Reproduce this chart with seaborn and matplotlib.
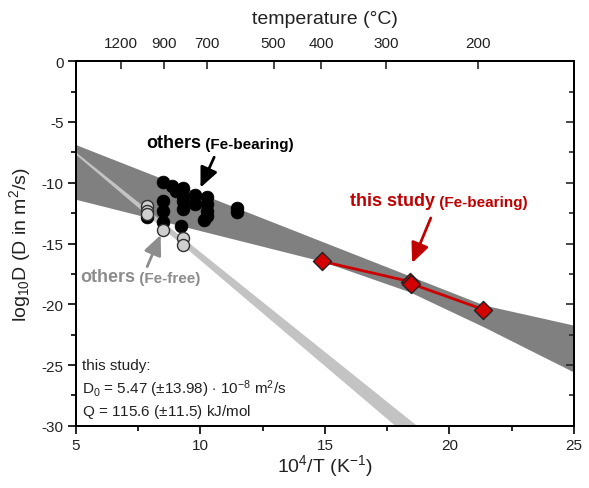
import numpy as np
import pandas as pd
import matplotlib
matplotlib.use("Agg")
import matplotlib.pyplot as plt
from matplotlib.ticker import MultipleLocator
import seaborn as sns

# ---------------- data ----------------
fe_bearing_x = [8.48, 8.84, 9.00, 9.31, 9.31, 9.31, 9.31, 9.78, 9.78,
                10.27, 10.27, 10.27, 10.27, 10.14, 8.48, 8.48, 8.48,
                9.20, 11.45, 11.45, 7.86]
fe_bearing_y = [-9.92, -10.25, -10.66, -10.46, -11.07, -11.48, -12.16, -11.0, -11.75,
                -11.2, -11.75, -12.3, -12.76, -13.04, -11.48, -12.3, -13.25,
                -13.6, -12.1, -12.4, -12.85]

fe_free_x = [7.86, 7.86, 7.86, 8.50, 9.31, 9.31]
fe_free_y = [-11.9, -12.3, -12.6, -13.86, -14.57, -15.1]

study_x = [14.87, 18.41, 18.45, 21.36]
study_y = [-16.46, -18.13, -18.30, -20.43]

# uncertainty envelope, Fe-bearing (dark band)
band_upper_x = [5.0, 21.4, 25.0]
band_upper_y = [-6.9, -20.1, -21.75]
band_lower_x = [5.0, 14.9, 18.4, 21.4, 25.0]
band_lower_y = [-11.4, -16.5, -19.0, -21.9, -25.6]

# envelope, Fe-free (light band)
fefree_upper_x = [5.0, 18.7]
fefree_upper_y = [-7.5, -30.0]
fefree_lower_x = [5.0, 17.83]
fefree_lower_y = [-7.7, -30.0]

temp_ticks_c = [1200, 900, 700, 500, 400, 300, 200]

# ---------------- style ----------------
sns.set_theme(style="ticks")
plt.rcParams["font.family"] = ["Liberation Sans", "DejaVu Sans"]
plt.rcParams["mathtext.fontset"] = "custom"
plt.rcParams["mathtext.rm"] = "Liberation Sans"
plt.rcParams["mathtext.it"] = "Liberation Sans:italic"
plt.rcParams["mathtext.bf"] = "Liberation Sans:bold"
plt.rcParams["axes.unicode_minus"] = False

RED_TXT = "#c00000"
RED_LINE = "#cc0000"
RED_FILL = "#d40000"
GRAY_TXT = "#8c8c8c"
DARK_BAND = "#808080"
LIGHT_BAND = "#c3c3c3"

fig = plt.figure(figsize=(5.89, 4.89), dpi=100)
ax = fig.add_axes([0.129, 0.127, 0.8455, 0.746])

# bands
ax.fill(band_upper_x + band_lower_x[::-1], band_upper_y + band_lower_y[::-1],
        color=DARK_BAND, lw=0, zorder=1)
ax.fill(fefree_upper_x + fefree_lower_x[::-1], fefree_upper_y + fefree_lower_y[::-1],
        color=LIGHT_BAND, lw=0, zorder=2)

# points
df_fb = pd.DataFrame({"x": fe_bearing_x, "y": fe_bearing_y})
df_ff = pd.DataFrame({"x": fe_free_x, "y": fe_free_y})
df_st = pd.DataFrame({"x": study_x, "y": study_y})

sns.scatterplot(data=df_fb, x="x", y="y", ax=ax, color="black", s=85,
                edgecolor="black", linewidth=0.5, zorder=4, legend=False)
sns.scatterplot(data=df_ff, x="x", y="y", ax=ax, color="#cfcfcf", s=75,
                edgecolor="#303030", linewidth=1.0, zorder=5, legend=False)
sns.lineplot(data=df_st, x="x", y="y", ax=ax, color=RED_LINE, lw=2,
             sort=True, estimator=None, zorder=6, legend=False)
sns.scatterplot(data=df_st, x="x", y="y", ax=ax, marker="D", color=RED_FILL, s=85,
                edgecolor="#222222", linewidth=1.0, zorder=7, legend=False)

# axes
ax.set_xlim(5, 25)
ax.set_ylim(-30, 0)
ax.xaxis.set_major_locator(MultipleLocator(5))
ax.xaxis.set_minor_locator(MultipleLocator(2.5))
ax.yaxis.set_major_locator(MultipleLocator(5))
ax.yaxis.set_minor_locator(MultipleLocator(2.5))
ax.tick_params(which="major", direction="out", length=6, width=1.2,
               labelsize=11, color="black", labelcolor="#222222", pad=3)
ax.tick_params(which="minor", direction="out", length=3.5, width=1.2, color="black")
for sp in ax.spines.values():
    sp.set_linewidth(1.3)
    sp.set_color("black")
    sp.set_visible(True)
ax.set_xlabel(r"10$^{4}$/T (K$^{-1}$)", fontsize=14, color="#222222", labelpad=0)
ax.set_ylabel(r"log$_{10}$D (D in m$^{2}$/s)", fontsize=14, color="#222222", labelpad=6)

# right ticks (inward)
axr = ax.twinx()
axr.set_ylim(-30, 0)
axr.yaxis.set_major_locator(MultipleLocator(5))
axr.yaxis.set_minor_locator(MultipleLocator(2.5))
axr.tick_params(which="major", direction="in", length=6, width=1.2, labelright=False)
axr.tick_params(which="minor", direction="in", length=3.5, width=1.2, labelright=False)

# top temperature axis
axt = ax.twiny()
axt.set_xlim(5, 25)
temp_pos = [1e4 / (t + 273.15) for t in temp_ticks_c]
axt.set_xticks(temp_pos)
axt.set_xticklabels([str(t) for t in temp_ticks_c])
axt.xaxis.set_minor_locator(matplotlib.ticker.NullLocator())
axt.tick_params(direction="in", length=6, width=1.2, labelsize=11,
                labelcolor="#222222", pad=8)
axt.set_xlabel("temperature (°C)", fontsize=14, color="#222222", labelpad=9)
for a in (axr, axt):
    for sp in a.spines.values():
        sp.set_linewidth(1.3)
        sp.set_color("black")

arrow_style = "-|>,head_length=1.0,head_width=0.45"

# annotations
t1 = ax.text(7.81, -6.68, "others", fontsize=13, fontweight="bold",
             color="black", ha="left", va="center", zorder=9)
ax.annotate(" (Fe-bearing)", xy=(1, 0), xycoords=t1, ha="left", va="bottom",
            fontsize=11, fontweight="bold", color="black")
ax.annotate("", xy=(10.0, -10.4), xytext=(10.55, -7.9),
            arrowprops=dict(arrowstyle=arrow_style, color="black", lw=2,
                            shrinkA=0, shrinkB=0), zorder=9)

t2 = ax.text(5.16, -17.7, "others", fontsize=13, fontweight="bold",
             color=GRAY_TXT, ha="left", va="center", zorder=9)
ax.annotate(" (Fe-free)", xy=(1, 0), xycoords=t2, ha="left", va="bottom",
            fontsize=11, fontweight="bold", color=GRAY_TXT)
ax.annotate("", xy=(8.4, -14.3), xytext=(7.86, -16.9),
            arrowprops=dict(arrowstyle=arrow_style, color=GRAY_TXT, lw=2,
                            shrinkA=0, shrinkB=0), zorder=9)

t3 = ax.text(16.0, -11.48, "this study", fontsize=13, fontweight="bold",
             color=RED_TXT, ha="left", va="center", zorder=9)
ax.annotate(" (Fe-bearing)", xy=(1, 0), xycoords=t3, ha="left", va="bottom",
            fontsize=11, fontweight="bold", color=RED_TXT)
ax.annotate("", xy=(18.5, -16.6), xytext=(19.25, -12.9),
            arrowprops=dict(arrowstyle=arrow_style, color=RED_TXT, lw=2,
                            shrinkA=0, shrinkB=0), zorder=9)

ax.text(5.24, -24.98, "this study:", fontsize=11, color="#222222",
        ha="left", va="center", zorder=9)
ax.text(5.24, -26.87, r"D$_{0}$ = 5.47 ($\pm$13.98) $\cdot$ 10$^{-8}$ m$^{2}$/s",
        fontsize=11, color="#222222", ha="left", va="center", zorder=9)
ax.text(5.24, -28.76, r"Q = 115.6 ($\pm$11.5) kJ/mol", fontsize=11,
        color="#222222", ha="left", va="center", zorder=9)

fig.savefig("out.png", dpi=100)
